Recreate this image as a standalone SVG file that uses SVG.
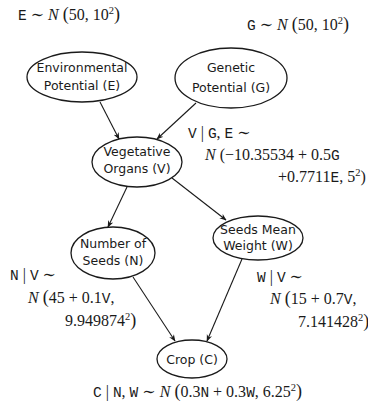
<svg xmlns="http://www.w3.org/2000/svg" width="368" height="405" viewBox="0 0 368 405">
  <style>
    .node ellipse { fill: #ffffff; stroke: #1a1a1a; stroke-width: 1.3; }
    .node text { font-family: "DejaVu Sans", "Noto Sans", sans-serif; font-size: 12.5px; fill: #1a1a1a; text-anchor: middle; }
    .edge { stroke: #1a1a1a; stroke-width: 1.1; fill: none; marker-end: url(#arrow); }
    .math { font-family: "Liberation Serif", "DejaVu Serif", serif; font-size: 16px; fill: #1a1a1a; }
    .tt { font-family: "Liberation Mono", "DejaVu Sans Mono", monospace; font-size: 14.5px; }
    .it { font-style: italic; }
    .sup { font-size: 10.5px; }
    .par { font-size: 18px; }
  </style>
  <defs>
    <marker id="arrow" viewBox="0 0 10 10" refX="9" refY="5" markerWidth="7" markerHeight="7" orient="auto" markerUnits="userSpaceOnUse">
      <path d="M0,1 L10,5 L0,9 L3,5 Z" fill="#1a1a1a"/>
    </marker>
  </defs>

  <rect width="368" height="405" fill="#ffffff"/>

  <!-- connectors -->
  <g id="edges">
    <line class="edge" x1="100" y1="102" x2="119" y2="139"/>
    <line class="edge" x1="196" y1="103" x2="157" y2="139"/>
    <line class="edge" x1="127" y1="187" x2="108" y2="227"/>
    <line class="edge" x1="172" y1="178" x2="226" y2="220"/>
    <line class="edge" x1="133" y1="277" x2="175" y2="341"/>
    <line class="edge" x1="242" y1="259" x2="207" y2="341"/>
  </g>

  <!-- nodes -->
  <g id="node-E" class="node">
    <ellipse cx="82" cy="77" rx="55" ry="25"/>
    <text x="82" y="72">Environmental</text>
    <text x="82" y="90">Potential (E)</text>
  </g>
  <g id="node-G" class="node">
    <ellipse cx="231" cy="78" rx="56" ry="30"/>
    <text x="231" y="72">Genetic</text>
    <text x="231" y="92">Potential (G)</text>
  </g>
  <g id="node-V" class="node">
    <ellipse cx="137" cy="162" rx="45" ry="25"/>
    <text x="137" y="156">Vegetative</text>
    <text x="137" y="173">Organs (V)</text>
  </g>
  <g id="node-N" class="node">
    <ellipse cx="113" cy="253" rx="42" ry="26"/>
    <text x="113" y="248">Number of</text>
    <text x="113" y="265">Seeds (N)</text>
  </g>
  <g id="node-W" class="node">
    <ellipse cx="258" cy="238" rx="45" ry="22"/>
    <text x="258" y="234">Seeds Mean</text>
    <text x="258" y="250">Weight (W)</text>
  </g>
  <g id="node-C" class="node">
    <ellipse cx="192" cy="359" rx="35" ry="19"/>
    <text x="192" y="364">Crop (C)</text>
  </g>

  <!-- distributions -->
  <g id="labels" class="math">
    <text x="18" y="20"><tspan class="tt">E</tspan> ∼ <tspan class="it">N</tspan> <tspan class="par">(</tspan>50, 10<tspan class="sup" dy="-6">2</tspan><tspan class="par" dy="6">)</tspan></text>
    <text x="247" y="30"><tspan class="tt">G</tspan> ∼ <tspan class="it">N</tspan> <tspan class="par">(</tspan>50, 10<tspan class="sup" dy="-6">2</tspan><tspan class="par" dy="6">)</tspan></text>

    <text x="188" y="138"><tspan class="tt">V</tspan> | <tspan class="tt">G</tspan>, <tspan class="tt">E</tspan> ∼</text>
    <text x="205" y="160"><tspan class="it">N</tspan> (−10.35534 + 0.5<tspan class="tt">G</tspan></text>
    <text x="278" y="182">+0.7711<tspan class="tt">E</tspan>, 5<tspan class="sup" dy="-6">2</tspan><tspan dy="6">)</tspan></text>

    <text x="10" y="280"><tspan class="tt">N</tspan> | <tspan class="tt">V</tspan> ∼</text>
    <text x="28" y="303"><tspan class="it">N</tspan> <tspan class="par">(</tspan>45 + 0.1<tspan class="tt">V</tspan>,</text>
    <text x="65" y="326">9.949874<tspan class="sup" dy="-6">2</tspan><tspan class="par" dy="6">)</tspan></text>

    <text x="257" y="282"><tspan class="tt">W</tspan> | <tspan class="tt">V</tspan> ∼</text>
    <text x="270" y="304"><tspan class="it">N</tspan> <tspan class="par">(</tspan>15 + 0.7<tspan class="tt">V</tspan>,</text>
    <text x="298" y="327">7.141428<tspan class="sup" dy="-6">2</tspan><tspan class="par" dy="6">)</tspan></text>

    <text x="93" y="397"><tspan class="tt">C</tspan> | <tspan class="tt">N</tspan>, <tspan class="tt">W</tspan> ∼ <tspan class="it">N</tspan> <tspan class="par">(</tspan>0.3<tspan class="tt">N</tspan> + 0.3<tspan class="tt">W</tspan>, 6.25<tspan class="sup" dy="-6">2</tspan><tspan class="par" dy="6">)</tspan></text>
  </g>
</svg>
